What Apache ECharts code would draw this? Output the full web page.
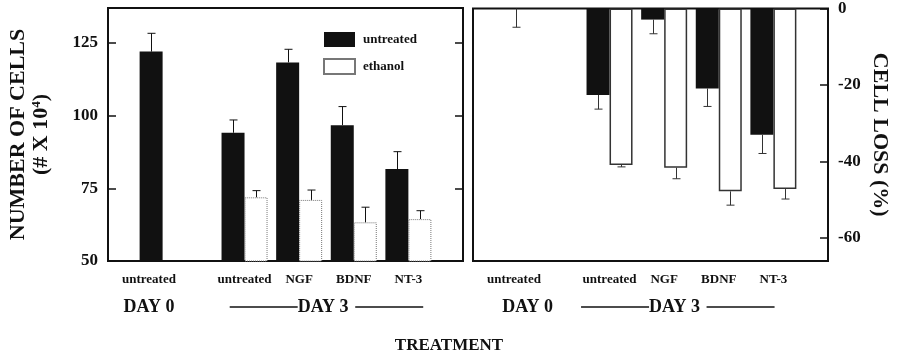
<!DOCTYPE html>
<html>
<head>
<meta charset="utf-8">
<script src="https://cdn.jsdelivr.net/npm/echarts@6/dist/echarts.min.js"></script>
<style>
  html, body { margin: 0; padding: 0; background: #fff; }
  #main { width: 898px; height: 357px; }
</style>
</head>
<body>
<div id="main"></div>
<script>
  // Data
  var treatments = ['untreated', 'untreated', 'NGF', 'BDNF', 'NT-3'];
  var days = ['DAY 0', 'DAY 3'];
  var seriesNames = ['untreated', 'ethanol'];

  // number of cells (# x 10^4)
  var cellsUntreated = [122, 94.1, 118.3, 96.7, 81.6];
  var cellsUntreatedErr = [6.3, 4.4, 4.5, 6.4, 6];
  var cellsEthanol = [null, 71.9, 71, 63.3, 64.4];
  var cellsEthanolErr = [null, 2.3, 3.4, 5.2, 2.9];

  // cell loss (%)
  var lossUntreated = [0, -22.6, -2.9, -20.9, -33];
  var lossUntreatedErr = [4.9, 3.7, 3.7, 4.7, 4.9];
  var lossEthanol = [null, -40.9, -41.6, -47.8, -47.2];
  var lossEthanolErr = [null, 0.5, 2.9, 3.6, 2.6];

  // axis ranges
  var cellsRange = [50, 137];
  var cellsInterval = 25;
  var lossRange = [-66, 0];

  var FONT = 'Liberation Serif';
  var BAR_W = 23;
  var CAP = 4;
  var X_MIN = -2, X_MAX = 11;

  /**
   * @name slotOf
   * @desc x slot of a treatment group (day 0 sits apart from day 3)
   */
  function slotOf(i) {
    return i === 0 ? 0 : 1 + 2 * i;
  }

  function labelSlot(i) {
    return i === 0 ? -0.5 : slotOf(i);
  }

  function barData(values) {
    var out = [];
    for (var i = 0; i < values.length; i++) {
      if (values[i] !== null) out.push([slotOf(i), values[i]]);
    }
    return out;
  }

  function errData(values, errs, side) {
    var out = [];
    for (var i = 0; i < values.length; i++) {
      if (values[i] !== null) out.push([slotOf(i), values[i], errs[i], side]);
    }
    return out;
  }

  function treatmentLabel(v) {
    for (var i = 0; i < treatments.length; i++) {
      if (labelSlot(i) === v) return treatments[i];
    }
    return '';
  }

  function dayFormatter(day0Slot, day3Shift) {
    var day3Slot = (slotOf(1) + slotOf(treatments.length - 1)) / 2 + day3Shift;
    return function (v) {
      if (v === day0Slot) return '{t|' + days[0] + '}';
      if (v === day3Slot) return '{ln|}{t|' + days[1] + '}  {ln|}';
      return '';
    };
  }

  function errorBar(dir, color) {
    return function (params, api) {
      var x = api.value(0), y = api.value(1), e = api.value(2), side = api.value(3);
      var p0 = api.coord([x, y]);
      var p1 = api.coord([x, y + dir * e]);
      var cx = Math.round(p0[0] + side * BAR_W / 2) + 0.5;
      return {
        type: 'group',
        children: [
          { type: 'line', shape: { x1: cx, y1: p0[1], x2: cx, y2: p1[1] }, style: { stroke: color, lineWidth: 1 } },
          { type: 'line', shape: { x1: cx - CAP, y1: p1[1], x2: cx + CAP, y2: p1[1] }, style: { stroke: color, lineWidth: 1 } }
        ]
      };
    };
  }

  function treatmentAxis(gridIndex) {
    return {
      type: 'value', gridIndex: gridIndex, position: 'bottom',
      min: X_MIN, max: X_MAX, interval: 0.5,
      axisLine: { show: false, onZero: false },
      axisTick: { show: false },
      splitLine: { show: false },
      axisLabel: {
        margin: 12, formatter: treatmentLabel,
        fontFamily: FONT, fontSize: 13, fontWeight: 'bold', color: '#111'
      }
    };
  }

  function dayAxis(gridIndex, day0Slot, day3Shift) {
    return {
      type: 'value', gridIndex: gridIndex, position: 'bottom', offset: 30,
      min: X_MIN, max: X_MAX, interval: 0.5,
      axisLine: { show: false, onZero: false },
      axisTick: { show: false },
      splitLine: { show: false },
      axisLabel: {
        margin: 7, formatter: dayFormatter(day0Slot, day3Shift),
        rich: {
          t: { fontFamily: FONT, fontSize: 18, fontWeight: 'bold', color: '#111' },
          ln: { width: 68, height: 1.5, backgroundColor: '#111', verticalAlign: 'middle' }
        }
      }
    };
  }

  var tickStyle = { show: true, inside: true, length: 8, lineStyle: { color: '#111', width: 1.5 } };
  var tickLabel = { margin: 10, fontFamily: FONT, fontSize: 17, fontWeight: 'bold', color: '#111' };

  var myChart = echarts.init(document.getElementById('main'));

  var option = {
    animation: false,
    backgroundColor: '#fff',
    title: {
      text: 'TREATMENT', left: 'center', top: 332,
      textStyle: { fontFamily: FONT, fontSize: 17, fontWeight: 'bold', color: '#111' }
    },
    legend: {
      data: seriesNames, orient: 'vertical', left: 323, top: 32, padding: 0,
      itemWidth: 31, itemHeight: 15, itemGap: 11, icon: 'rect',
      textStyle: { fontFamily: FONT, fontSize: 13, fontWeight: 'bold', color: '#111', padding: [0, 0, 0, 3] }
    },
    grid: [
      { left: 108, top: 8, width: 355, height: 253, show: true, borderColor: '#111', borderWidth: 2, backgroundColor: '#fff' },
      { left: 473, top: 8, width: 355, height: 253, show: true, borderColor: '#111', borderWidth: 2, backgroundColor: '#fff' }
    ],
    xAxis: [
      treatmentAxis(0), dayAxis(0, -0.5, 0),
      treatmentAxis(1), dayAxis(1, 0, -0.5)
    ],
    yAxis: [
      {
        type: 'value', gridIndex: 0, position: 'left',
        min: cellsRange[0], max: cellsRange[1], interval: cellsInterval,
        axisLine: { show: false, onZero: false },
        axisTick: tickStyle, splitLine: { show: false },
        axisLabel: Object.assign({ showMaxLabel: false }, tickLabel),
        name: 'NUMBER OF CELLS\n(# X 10{sup|4})',
        nameLocation: 'middle', nameGap: 55, nameRotate: 90,
        nameTextStyle: {
          fontFamily: FONT, fontSize: 22, fontWeight: 'bold', color: '#111', lineHeight: 23,
          rich: { sup: { fontFamily: FONT, fontSize: 13, fontWeight: 'bold', color: '#111', verticalAlign: 'top', lineHeight: 13 } }
        }
      },
      {
        type: 'value', gridIndex: 0, position: 'right',
        min: cellsRange[0], max: cellsRange[1], interval: cellsInterval,
        axisLine: { show: false, onZero: false },
        axisTick: tickStyle, splitLine: { show: false },
        axisLabel: { show: false }
      },
      {
        type: 'value', gridIndex: 1, position: 'right',
        min: lossRange[0], max: lossRange[1], splitNumber: 3,
        axisLine: { show: false, onZero: false },
        axisTick: tickStyle, splitLine: { show: false },
        axisLabel: Object.assign({ showMinLabel: false }, tickLabel),
        name: 'CELL LOSS (%)',
        nameLocation: 'middle', nameGap: 41, nameRotate: -90,
        nameTextStyle: { fontFamily: FONT, fontSize: 22, fontWeight: 'bold', color: '#111' }
      }
    ],
    series: [
      {
        name: seriesNames[0], type: 'bar', xAxisIndex: 0, yAxisIndex: 0,
        barWidth: BAR_W, barGap: '0%',
        itemStyle: { color: '#111' },
        data: barData(cellsUntreated)
      },
      {
        name: seriesNames[1], type: 'bar', xAxisIndex: 0, yAxisIndex: 0,
        barWidth: BAR_W, barGap: '0%',
        itemStyle: { color: '#fff', borderColor: '#777', borderWidth: 1, borderType: 'dotted' },
        data: barData(cellsEthanol)
      },
      {
        name: seriesNames[0], type: 'bar', xAxisIndex: 2, yAxisIndex: 2,
        barWidth: BAR_W, barGap: '0%',
        itemStyle: { color: '#111' },
        data: barData(lossUntreated)
      },
      {
        name: seriesNames[1], type: 'bar', xAxisIndex: 2, yAxisIndex: 2,
        barWidth: BAR_W, barGap: '0%',
        itemStyle: { color: '#fff', borderColor: '#333', borderWidth: 1.5 },
        data: barData(lossEthanol)
      },
      {
        type: 'custom', xAxisIndex: 0, yAxisIndex: 0, z: 5,
        renderItem: errorBar(1, '#111'), encode: { x: 0, y: 1 },
        data: errData(cellsUntreated, cellsUntreatedErr, -1).concat(errData(cellsEthanol, cellsEthanolErr, 1))
      },
      {
        type: 'custom', xAxisIndex: 2, yAxisIndex: 2, z: 5,
        renderItem: errorBar(-1, '#333'), encode: { x: 0, y: 1 },
        data: errData(lossUntreated, lossUntreatedErr, -1).concat(errData(lossEthanol, lossEthanolErr, 1))
      }
    ]
  };

  myChart.setOption(option);
</script>
</body>
</html>
